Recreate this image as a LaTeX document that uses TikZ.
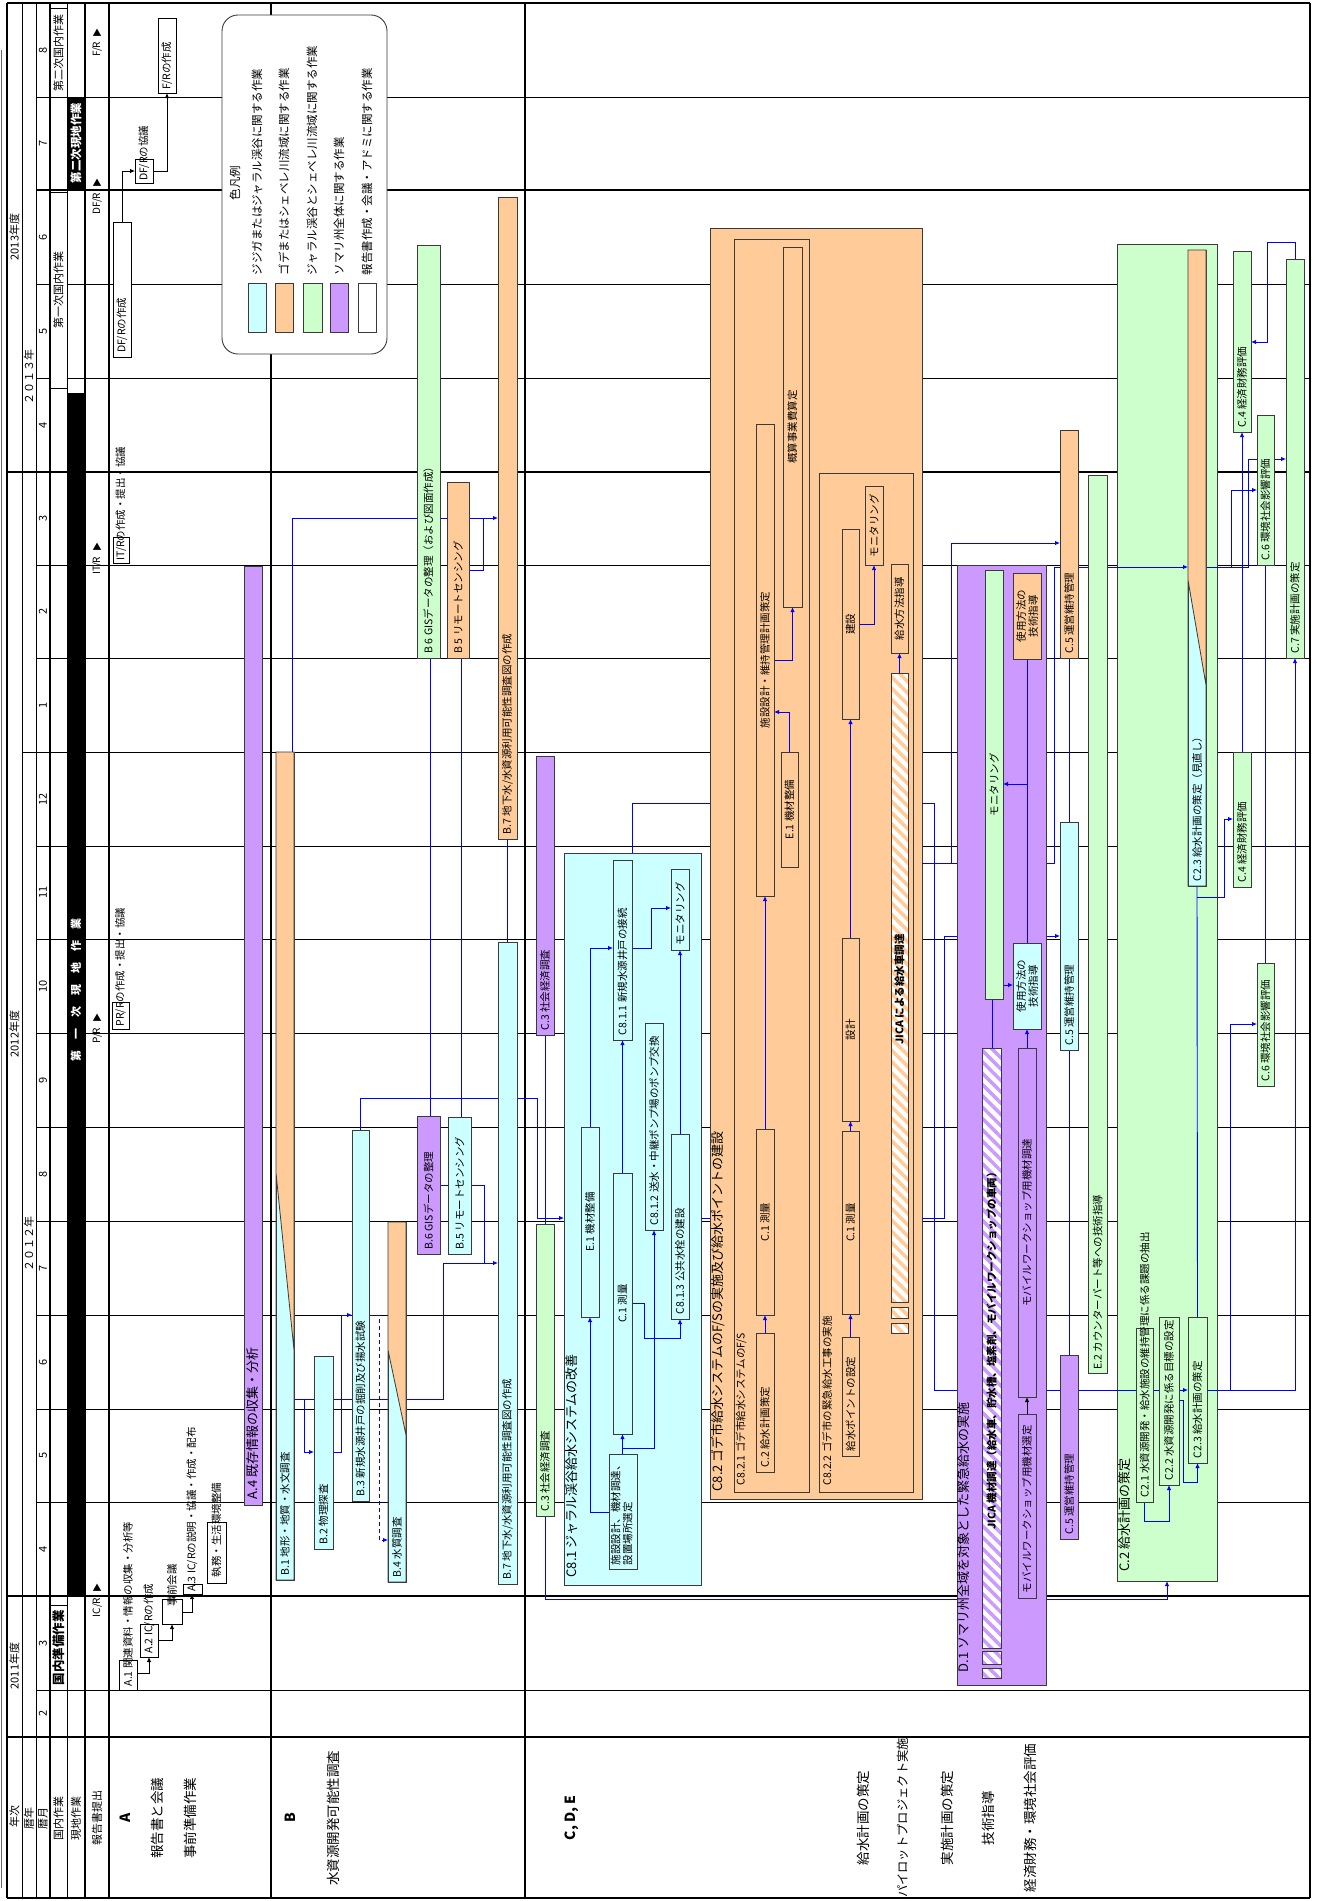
\documentclass[tikz,border=0pt]{standalone}
\usepackage{fontspec}
\setmainfont{Noto Sans CJK JP}
\usetikzlibrary{arrows.meta,patterns.meta}
\pgfdeclarelayer{lgrid}
\pgfdeclarelayer{lcont}
\pgfdeclarelayer{lconn}
\pgfdeclarelayer{ldone}
\pgfdeclarelayer{ldconn}
\pgfsetlayers{lgrid,lcont,lconn,ldone,ldconn,main}
\definecolor{cyc}{HTML}{CCFFFF}
\definecolor{orc}{HTML}{FFCC99}
\definecolor{grc}{HTML}{CCFFCC}
\definecolor{puc}{HTML}{CC99FF}
\definecolor{blc}{HTML}{0000FF}
\definecolor{edge}{HTML}{3A3A3A}
\tikzset{
 gbox/.style={draw=edge, line width=0.8pt, inner sep=0pt, outer sep=0pt, rectangle},
 cont/.style={gbox, line width=1pt},
 conn/.style={draw=blc, line width=0.9pt},
 arr/.style={-{Latex[length=5pt,width=4.5pt]}},
 blk/.style={draw=black, line width=0.8pt},
 tx/.style={rotate=90, inner sep=0.5pt, font=\fontsize{10.5}{12}\selectfont},
 txB/.style={rotate=90, inner sep=0.5pt, font=\fontsize{10.5}{12}\selectfont\bfseries},
 txL/.style={rotate=90, inner sep=0.5pt, font=\fontsize{13}{14}\selectfont},
 txH/.style={rotate=90, inner sep=0.5pt, font=\fontsize{11}{12}\selectfont},
 txR/.style={rotate=90, inner sep=0.5pt, font=\fontsize{13.5}{15}\selectfont},
 txG/.style={rotate=90, inner sep=0.5pt, font=\fontsize{11.5}{13}\selectfont},
 repmark/.style={rotate=90, inner sep=0.5pt, anchor=east, font=\fontsize{10}{11}\selectfont},
 reptri/.style={inner sep=0pt, font=\fontsize{9}{9}\selectfont},
 hatchO/.style={preaction={fill=white}, pattern={Lines[angle=-45,distance=8pt,line width=3.5pt]}, pattern color=orc},
 hatchP/.style={preaction={fill=white}, pattern={Lines[angle=-45,distance=8pt,line width=3.5pt]}, pattern color=puc},
}
\newcounter{tn}
\newcommand\gb[6]{\node[gbox,#6,minimum width={#4-#2},minimum height={#5-#3}] (#1) at ({(#2+#4)/2},{(#3+#5)/2}) {};}
\newcommand\lw[4][tx]{\stepcounter{tn}\node[#1,anchor=west] (t\arabic{tn}) at (#2,#3) {#4};}
\newcommand\lc[3][tx]{\stepcounter{tn}\node[#1,align=center] (t\arabic{tn}) at (#2.center) {#3};}
\begin{document}
\begin{tikzpicture}[x=1pt,y=-1pt]
\useasboundingbox (0,0) rectangle (1319,1901);
% ---------------- grid ----------------
\begin{pgfonlayer}{lgrid}
\fill[white] (0,0) rectangle (1319,1901);
\fill[black] (67,97) rectangle (85,190);
\fill[black] (67,393) rectangle (85,1596);
\foreach \y in {97,284,378,565,658,846,939,1033,1127,1221,1315,1409,1502,1690}
  \draw[line width=0.9pt] (36,\y) -- (1310,\y);
\draw[line width=1.4pt] (36,190) -- (1310,190);
\draw[line width=0.9pt] (22,752) -- (1310,752);
\draw[line width=1.3pt] (7,472) -- (1310,472);
\draw[line width=1.6pt] (7,1596) -- (1310,1596);
\draw[line width=1.6pt] (7,1737) -- (1310,1737);
\draw[line width=2pt] (7,3) -- (1310,3);
\draw[line width=1.6pt] (7,1898) -- (1310,1898);
\draw[line width=1.5pt] (7,3) -- (7,1898);
\draw[line width=0.9pt] (22,3) -- (22,1898);
\draw[line width=0.9pt] (36,3) -- (36,1898);
\draw[line width=1.3pt] (50,3) -- (50,1898);
\draw[line width=0.9pt] (67,3) -- (67,1898);
\draw[line width=1.5pt] (85,3) -- (85,1898);
\draw[line width=2pt] (109,3) -- (109,1898);
\draw[line width=1.8pt] (271,3) -- (271,1898);
\draw[line width=1.8pt] (525,3) -- (525,1898);
\draw[line width=2pt] (1310,3) -- (1310,1898);
\draw[line width=0.6pt, black!60] (1.5,50) -- (1.5,1888);
\end{pgfonlayer}
% ---------------- header ----------------
\node[txH] (fy13) at (14.5,237) {2013年度};
\node[txH] (fy12) at (14.5,1034) {2012年度};
\node[txH] (fy11) at (14.5,1666) {2011年度};
\node[txH] (cy13) at (29,377) {２０１３年};
\node[txH] (cy12) at (29,1244) {２０１２年};
\foreach \m/\y [count=\i] in {8/50,7/143,6/237,5/331,4/425,3/518,2/611,1/705,12/799,11/892,10/986,9/1080,8/1174,7/1268,6/1362,5/1455,4/1549,3/1643,2/1713}
  \node[txH] (mon\i) at (43,\y) {\m};
\node[txH] (h1) at (14.5,1816) {年次};
\node[txH] (h2) at (29,1818) {暦年};
\node[txH] (h3) at (43,1818) {暦月};
\node[txH] (h4) at (58.5,1818) {国内作業};
\node[txH] (h5) at (76,1818) {現地作業};
\node[txH] (h6) at (97,1818) {報告書提出};
\gb{dom2}{50}{8}{67}{97}{fill=white,draw=black}
\gb{dom1}{50}{192}{67}{388}{fill=white,draw=black}
\gb{dom0}{50}{1605}{67}{1690}{fill=white,draw=black}
\lc[txH]{dom2}{第二次国内作業}
\lc[txH]{dom1}{第一次国内作業}
\node[txH,font=\fontsize{12.5}{13}\selectfont\bfseries] (dom0t) at (dom0.center) {国内準備作業};
\node[txH,text=white,font=\fontsize{11.5}{12}\selectfont\bfseries] (fld2) at (76,143) {第二次現地作業};
\node[txH,text=white,font=\fontsize{11}{12}\selectfont\bfseries] (fld1) at (76,990) {第　一　次　現　地　作　業};
% report markers
\node[repmark] (mkFR) at (97,41) {F/R};
\node[reptri] (triFR) at (97,33) {▲};
\node[repmark] (mkDFR) at (97,192) {DF/R};
\node[reptri] (triDFR) at (97,183) {▲};
\node[repmark] (mkITR) at (97,556) {IT/R};
\node[reptri] (triITR) at (97,547) {▲};
\node[repmark] (mkPR) at (97,1027) {P/R};
\node[reptri] (triPR) at (97,1018) {▲};
\node[repmark] (mkICR) at (97,1597) {IC/R};
\node[reptri] (triICR) at (97,1588) {▲};
% row labels
\node[txR,font=\fontsize{14}{15}\selectfont\bfseries] (rA) at (125,1818) {A};
\node[txR] (rA1) at (157,1818) {報告書と会議};
\node[txR] (rA2) at (190,1818) {事前準備作業};
\node[txR,font=\fontsize{14}{15}\selectfont\bfseries] (rB) at (290,1818) {B};
\node[txR] (rB1) at (333,1818) {水資源開発可能性調査};
\node[txR,font=\fontsize{14}{15}\selectfont\bfseries] (rC) at (572,1818) {C, D, E};
\node[txR] (rC1) at (863,1818) {給水計画の策定};
\node[txR,font=\fontsize{12.3}{14}\selectfont] (rC2) at (903,1818) {パイロットプロジェクト実施};
\node[txR] (rC3) at (947,1818) {実施計画の策定};
\node[txR] (rC4) at (988,1818) {技術指導};
\node[txR] (rC5) at (1030,1818) {経済財務・環境社会評価};
% ---------------- legend ----------------
\node[draw=edge, line width=0.9pt, fill=white, rounded corners=16pt, minimum width=165, minimum height=339, inner sep=0] (legend) at (304.5,184.5) {};
\node[txG] (legt) at (235,183) {色凡例};
\gb{sw1}{248}{283}{266}{332}{fill=cyc}
\gb{sw2}{275}{283}{293}{332}{fill=orc}
\gb{sw3}{303}{283}{322}{332}{fill=grc}
\gb{sw4}{330}{283}{348}{332}{fill=puc}
\gb{sw5}{358}{283}{376}{332}{fill=white}
\lw[txG]{257}{276}{ジジガまたはジャラル渓谷に関する作業}
\lw[txG]{284}{276}{ゴデまたはシェベレ川流域に関する作業}
\lw[txG]{312}{276}{ジャラル渓谷とシェベレ川流域に関する作業}
\lw[txG]{339}{276}{ソマリ州全体に関する作業}
\lw[txG]{367}{276}{報告書作成・会議・アドミに関する作業}
% ---------------- A ----------------
\gb{DFRs}{113}{222}{131}{357}{fill=white,draw=black}
\gb{DFRk}{135}{159}{153}{183}{fill=white,draw=black}
\gb{FRs}{158}{18}{176}{93}{fill=white,draw=black}
\gb{ITR}{113}{537}{129}{563}{fill=white,draw=black}
\gb{PRR}{112}{1002}{129}{1029}{fill=white,draw=black}
\gb{A1}{119}{1660}{137}{1690}{fill=white,draw=black}
\gb{A2}{140}{1624}{158}{1657}{fill=white,draw=black}
\gb{JZK}{162}{1599}{182}{1624}{fill=white,draw=black}
\gb{A3}{183}{1584}{202}{1594}{fill=white,draw=black}
\gb{SHM}{207}{1522}{226}{1583}{fill=white,draw=black}
\gb{A4}{244}{566}{262}{1505}{fill=puc}
% ---------------- B ----------------
\gb{B1}{276}{752}{294}{1580}{fill=cyc}
\fill[orc] (276,752) -- (294,752) -- (294,1350) -- (276,1173) -- cycle;
\draw[draw=edge,line width=0.8pt] (276,1173) -- (294,1350) (B1.south west) rectangle (B1.north east);
\gb{B2}{314}{1356}{333}{1549}{fill=cyc}
\gb{B3}{352}{1130}{369}{1501}{fill=cyc}
\gb{B4}{388}{1222}{406}{1582}{fill=cyc}
\fill[orc] (388,1222) -- (406,1222) -- (406,1435) -- (388,1350) -- cycle;
\draw[draw=edge,line width=0.8pt] (388,1350) -- (406,1435) (B4.south west) rectangle (B4.north east);
\gb{B6l}{417}{1116}{440}{1254}{fill=puc}
\gb{B5l}{448}{1117}{471}{1254}{fill=cyc}
\gb{B7l}{498}{942}{517}{1584}{fill=cyc}
\gb{B6u}{417}{245}{440}{658}{fill=grc}
\gb{B5u}{447}{482}{469}{658}{fill=orc}
\gb{B7u}{498}{197}{517}{839}{fill=orc}
% ---------------- containers ----------------
\begin{pgfonlayer}{lcont}
\gb{C81}{564}{853}{701}{1585}{cont,fill=cyc}
\gb{C82}{710}{228}{922}{1499}{cont,fill=orc}
\gb{C821}{734}{239}{809}{1492}{cont,fill=orc}
\gb{C822}{819}{473}{913}{1492}{cont,fill=orc}
\gb{C2}{1117}{244}{1217}{1581}{cont,fill=grc}
\end{pgfonlayer}
\begin{pgfonlayer}{ldone}
\gb{D1}{957}{565}{1046}{1685}{cont,fill=puc}
\end{pgfonlayer}
% ---------------- C bars ----------------
\gb{C3u}{536}{756}{554}{1035}{fill=puc}
\gb{C3l}{536}{1224}{554}{1516}{fill=grc}
\gb{SSK}{609}{1454}{637}{1569}{fill=cyc}
\gb{C1a}{613}{1173}{632}{1434}{fill=cyc}
\gb{E1a}{581}{1127}{599}{1317}{fill=cyc}
\gb{C811}{613}{860}{632}{1040}{fill=cyc}
\gb{C812}{645}{1023}{663}{1230}{fill=cyc}
\gb{C813}{671}{1134}{689}{1319}{fill=cyc}
\gb{MON1}{671}{869}{689}{950}{fill=cyc}
\gb{C2a}{756}{1333}{774}{1472}{fill=orc}
\gb{C1b}{756}{1129}{774}{1315}{fill=orc}
\gb{SSI}{756}{424}{774}{896}{fill=orc}
\gb{GAI}{783}{247}{802}{607}{fill=orc}
\gb{E1b}{781}{752}{798}{867}{fill=orc}
\gb{KSP}{842}{1337}{859}{1456}{fill=orc}
\gb{C1c}{842}{1131}{859}{1314}{fill=orc}
\gb{SEK}{842}{938}{859}{1121}{fill=orc}
\gb{KEN}{842}{529}{859}{719}{fill=orc}
\gb{MON2}{865}{486}{883}{565}{fill=orc}
\gb{KHS}{891}{564}{908}{653}{fill=orc}
\gb{JICA1}{891}{673}{908}{1302}{hatchO}
\gb{sm1}{891}{1307}{908}{1318}{hatchO}
\gb{sm2}{891}{1323}{908}{1333}{hatchO}
\gb{MON3}{985}{570}{1003}{999}{fill=grc}
\gb{SHO}{1013}{573}{1041}{659}{fill=orc}
\gb{SHC}{1013}{943}{1041}{1029}{fill=cyc}
\gb{JICA2}{982}{1048}{1001}{1648}{hatchP}
\gb{sm3}{982}{1651}{1001}{1664}{hatchP}
\gb{sm4}{982}{1668}{1001}{1678}{hatchP}
\gb{MWC}{1018}{1048}{1036}{1397}{fill=puc}
\gb{MWS}{1018}{1414}{1036}{1598}{fill=puc}
\gb{C5o}{1060}{430}{1078}{658}{fill=orc}
\gb{C5c}{1060}{822}{1078}{1050}{fill=cyc}
\gb{C5p}{1060}{1355}{1078}{1539}{fill=puc}
\gb{E2}{1088}{475}{1107}{1373}{fill=grc}
\gb{C23r}{1188}{250}{1206}{886}{fill=cyc}
\fill[orc] (1188,250) -- (1206,250) -- (1206,685) -- (1188,580) -- cycle;
\draw[draw=edge,line width=0.8pt] (1188,580) -- (1206,685) (C23r.south west) rectangle (C23r.north east);
\gb{C21}{1136}{1328}{1153}{1502}{fill=grc}
\gb{C22}{1159}{1317}{1179}{1485}{fill=grc}
\gb{C23}{1188}{1317}{1207}{1463}{fill=grc}
\gb{C4l}{1233}{752}{1251}{887}{fill=grc}
\gb{C4u}{1233}{251}{1251}{432}{fill=grc}
\gb{C6l}{1257}{963}{1274}{1086}{fill=grc}
\gb{C6u}{1257}{415}{1274}{565}{fill=grc}
\gb{C7}{1286}{259}{1304}{658}{fill=grc}
% ---------------- labels ----------------
\lw{122}{353}{DF/Rの作成}
\lw{144}{181}{DF/Rの協議}
\lw{167}{90}{F/Rの作成}
\lw{121}{561}{IT/Rの作成・提出・協議}
\lw{120.5}{1027}{PR/Rの作成・提出・協議}
\lw{128}{1687}{A.1 関連資料・情報の収集・分析等}
\lw{149}{1654}{A.2 IC/Rの作成}
\lw{172}{1607}{事前会議}
\lw{192}{1592}{A.3 IC/Rの説明・協議・作成・配布}
\lw{216.5}{1578}{執務・生活環境整備}
\lw[txL]{253}{1500}{A.4 既存情報の収集・分析}
\lw{285}{1576}{B.1 地形・地質・水文調査}
\lw{323.5}{1545}{B.2 物理探査}
\lw{360.5}{1497}{B.3 新規水源井戸の掘削及び揚水試験}
\lw{397}{1578}{B.4 水質調査}
\lw{428.5}{1250}{B.6 GISデータの整理}
\lw{459.5}{1250}{B.5 リモートセンシング}
\lw{507.5}{1580}{B.7 地下水/水資源利用可能性調査図の作成}
\lw{428.5}{654}{B 6 GISデータの整理（および図面作成）}
\lw{458}{654}{B 5 リモートセンシング}
\lw{507.5}{835}{B.7 地下水/水資源利用可能性調査図の作成}
\lw{545}{1031}{C.3 社会経済調査}
\lw{545}{1512}{C.3 社会経済調査}
\lw[txL]{572}{1578}{C8.1 ジャラル渓谷給水システムの改善}
\stepcounter{tn}\node[tx,anchor=north west,align=left] (t\arabic{tn}) at (610,1566) {施設設計、機材調達、\\設置場所選定};
\lc{C1a}{C.1 測量}
\lc{E1a}{E.1 機材整備}
\lw{622.5}{1036}{C8.1.1 新規水源井戸の接続}
\lw{654}{1226}{C8.1.2 送水・中継ポンプ場のポンプ交換}
\lw{680}{1315}{C8.1.3 公共水栓の建設}
\lw{680}{946}{モニタリング}
\lw[txL]{718}{1492}{C8.2 ゴデ市給水システムのF/Sの実施及び給水ポイントの建設}
\lw{741}{1486}{C8.2.1 ゴデ市給水システムのF/S}
\lw{765}{1468}{C.2 給水計画策定}
\lc{C1b}{C.1 測量}
\lc{SSI}{施設設計・維持管理計画策定}
\lc{GAI}{概算事業費算定}
\lc{E1b}{E.1 機材整備}
\lw{827}{1486}{C8.2.2 ゴデ市の緊急給水工事の実施}
\lw{850.5}{1452}{給水ポイントの設定}
\lc{C1c}{C.1 測量}
\lc{SEK}{設計}
\lc{KEN}{建設}
\lc{MON2}{モニタリング}
\lc{KHS}{給水方法指導}
\lw[txB]{899.5}{1045}{JICA による給水車調達}
\lw[txL]{964}{1673}{D.1 ソマリ州全域を対象とした緊急給水の実施}
\lc{MON3}{モニタリング}
\lc{SHO}{使用方法の\\技術指導}
\lc{SHC}{使用方法の\\技術指導}
\lw[txB]{991.5}{1530}{JICA 機材調達（給水車、貯水槽、塩素剤、モバイルワークショップの車両）}
\lc{MWC}{モバイルワークショップ用機材調達}
\lw{1027}{1594}{モバイルワークショップ用機材選定}
\lw{1069}{654}{C.5 運営維持管理}
\lw{1069}{1046}{C.5 運営維持管理}
\lw{1069}{1535}{C.5 運営維持管理}
\lw{1097.5}{1370}{E.2 カウンターパート等への技術指導}
\lw[txL]{1125}{1572}{C.2 給水計画の策定}
\lw{1144.5}{1498}{C2.1 水資源開発・給水施設の維持管理に係る課題の抽出}
\lw{1169}{1481}{C2.2 水資源開発に係る目標の設定}
\lw{1197.5}{1459}{C2.3 給水計画の策定}
\lw{1197}{882}{C2.3 給水計画の策定（見直し）}
\lw{1242}{883}{C.4 経済財務評価}
\lw{1242}{428}{C.4 経済財務評価}
\lw{1265.5}{1082}{C.6 環境社会影響評価}
\lw{1265.5}{561}{C.6 環境社会影響評価}
\lw{1295}{654}{C.7 実施計画の策定}
% ---------------- connectors (A, black) ----------------
\draw[blk,arr] (DFRs.north -| 122,0) -- (122,171) -- (DFRk.west |- 0,171);
\draw[blk,arr] (DFRk.east |- 0,171) -- (167,171) -- (FRs.south -| 167,0);
\draw[blk,arr] (A1.east |- 0,1673) -- (149,1673) -- (A2.south -| 149,0);
\draw[blk,arr] (A2.east |- 0,1640) -- (172,1640) -- (JZK.south -| 172,0);
\draw[blk,arr] (JZK.east |- 0,1612) -- (192,1612) -- (A3.south -| 192,0);
% ---------------- connectors (blue) ----------------
\begin{pgfonlayer}{lconn}
\draw[conn,arr] (B1.north -| 292,0) -- (292,518) -- (B7u.west |- 0,518);
\draw[conn] (B5u.east |- 0,570) -- (483,570) -- (483,518);
\draw[conn] (B5l.north -| 461,0) -- (B5u.south -| 461,0);
\draw[conn] (B6l.north -| 430,0) -- (B6u.south -| 430,0);
\draw[conn,arr] (B3.north) -- (B3.north |- 0,1098) -- (537,1098) -- (537,1218) -- (C81.west |- 0,1218);
\draw[conn,arr] (B1.east |- 0,1399) -- (443,1399) -- (443,1263) -- (B7l.west |- 0,1263);
\draw[conn] (B5l.east |- 0,1185) -- (484,1185) -- (484,1263);
\draw[conn] (B6l.east |- 0,1185) -- (B5l.west |- 0,1185);
\draw[conn,arr] (304,1399) -- (304,1452) -- (B2.west |- 0,1452);
\draw[conn,arr] (B2.east |- 0,1452) -- (341,1452) -- (341,1315) -- (B3.west |- 0,1315);
\draw[conn,arr,dash pattern=on 4pt off 3pt] (B3.east |- 0,1315) -- (379,1315) -- (379,1540) -- (B4.west |- 0,1540);
\draw[conn] (B7l.north) -- (B7u.south);
\draw[conn] (C3u.south) -- (C3l.north);
\draw[conn,arr] (C3l.south) -- (545,1599) -- (1167,1599) -- (C2.south -| 1167,0);
% C8.1
\draw[conn,arr] (SSK.north -| C1a.south) -- (C1a.south);
\draw[conn,arr] (623,1448) -- (654,1448) -- (C812.south);
\draw[conn,arr] (SSK.west |- 0,1512) -- (590,1512) -- (E1a.south);
\draw[conn,arr] (E1a.north) -- (E1a.north |- 0,948) -- (C811.west |- 0,948);
\draw[conn,arr] (C1a.north) -- (C811.south);
\draw[conn,arr] (C1a.east |- 0,1303) -- (644,1303) -- (644,1338) -- (C813.south |- 0,1338) -- (C813.south);
\draw[conn,arr] (C813.north) -- (MON1.south);
\draw[conn,arr] (C811.east |- 0,948) -- (651,948) -- (651,908) -- (MON1.west |- 0,908);
\draw[conn] (C81.north -| 632,0) -- (632,803) -- (C82.west |- 0,803);
\draw[conn] (C81.east |- 0,1218) -- (C82.west |- 0,1218);
% C8.2
\draw[conn,arr] (C2a.north) -- (C1b.south);
\draw[conn,arr] (C1b.north) -- (SSI.south);
\draw[conn,arr] (SSI.east |- 0,660) -- (GAI.south |- 0,660) -- (GAI.south);
\draw[conn,arr] (E1b.north) -- (E1b.north |- 0,712) -- (SSI.east |- 0,712);
\draw[conn,arr] (KSP.north) -- (C1c.south);
\draw[conn,arr] (C1c.north) -- (SEK.south);
\draw[conn,arr] (SEK.north) -- (KEN.south);
\draw[conn,arr] (KEN.east |- 0,624) -- (MON2.south |- 0,624) -- (MON2.south);
\draw[conn,arr] (JICA1.north) -- (KHS.south);
\draw[conn,arr] (C82.east |- 0,803) -- (934,803) -- (934,1390) -- (C23.west |- 0,1390);
\draw[conn,arr] (C82.east |- 0,863) -- (951,863) -- (951,543) -- (C5o.west |- 0,543);
\draw[conn,arr] (951,863) -- (1054,863) -- (1054,567) -- (C23r.west |- 0,567);
\draw[conn,arr] (C82.east |- 0,1218) -- (944,1218) -- (944,936) -- (C5c.west |- 0,936);
% C5, C2 group
\draw[conn] (C5o.south) -- (C5c.north);
\draw[conn] (C5c.south) -- (C5p.north);
\draw[conn,arr] (C21.south) -- (C21.south |- 0,1521) -- (C22.south |- 0,1521) -- (C22.south);
\draw[conn,arr] (C22.east |- 0,1400) -- (1183,1400) -- (1183,1482) -- (C23.south |- 0,1482) -- (C23.south);
\draw[conn] (C23.north) -- (C23r.south);
\draw[conn,arr] (C23r.south |- 0,897) -- (1224,897) -- (1224,819) -- (C4l.west |- 0,819);
\draw[conn,arr] (C4l.north) -- (C4u.south);
\draw[conn] (C6l.north) -- (C6u.south);
\draw[conn,arr] (C23.east |- 0,1390) -- (1230,1390) -- (1230,1024) -- (C6l.west |- 0,1024);
\draw[conn,arr] (1230,1390) -- (1295,1390) -- (C7.south -| 1295,0);
\draw[conn,arr] (C7.north -| 1295,0) -- (1295,242) -- (1267,242) -- (1267,342) -- (C4u.east |- 0,342);
\draw[conn,arr] (C23r.east |- 0,567) -- (1231,567) -- (1231,490) -- (C6u.west |- 0,490);
\draw[conn,arr] (1231,567) -- (1248,567) -- (1248,459) -- (C7.west |- 0,459);
\end{pgfonlayer}
\begin{pgfonlayer}{ldconn}
\draw[blk,arr] (MWS.north) -- (MWC.south);
\draw[conn,arr] (MWC.north) -- (SHC.south);
\draw[conn] (SHC.north) -- (SHO.south);
\draw[conn,arr] (SHC.north |- 0,784) -- (MON3.east |- 0,784);
\draw[conn] (JICA2.north -| 992,0) -- (MON3.south -| 992,0);
\draw[conn,arr] (MON3.east |- 0,985) -- (SHC.west |- 0,985);
\end{pgfonlayer}
\end{tikzpicture}
\end{document}
